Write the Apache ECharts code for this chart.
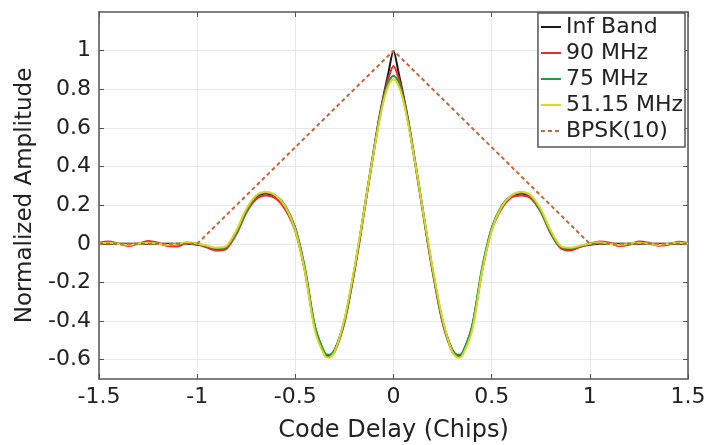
<!DOCTYPE html>
<html>
<head>
<meta charset="utf-8">
<script src="https://cdn.jsdelivr.net/npm/echarts@6/dist/echarts.min.js"></script>
<style>
    html, body { margin: 0; padding: 0; background: #fff; }
    #acf_chart { width: 705px; height: 445px; }
</style>
</head>
<body>
<div id="acf_chart"></div>
<script>
// code delay samples (chips)
const delays = [-1.5, -1.45, -1.4, -1.35, -1.3, -1.25, -1.2, -1.15, -1.1, -1.05,
    -1, -0.95, -0.9, -0.85, -0.8, -0.75, -0.7, -0.65, -0.6, -0.55, -0.5, -0.45, -0.4,
    -0.35, -0.33, -0.3, -0.25, -0.2, -0.175, -0.15, -0.125, -0.1, -0.075, -0.05, -0.025,
    0,
    0.025, 0.05, 0.075, 0.1, 0.125, 0.15, 0.175, 0.2, 0.25, 0.3, 0.33, 0.35, 0.4, 0.45,
    0.5, 0.55, 0.6, 0.65, 0.7, 0.75, 0.8, 0.85, 0.9, 0.95, 1,
    1.05, 1.1, 1.15, 1.2, 1.25, 1.3, 1.35, 1.4, 1.45, 1.5];

const infBand = [0, 0, 0, 0, 0, 0, 0, 0, 0, 0,
    -0.005, -0.015, -0.03, -0.02, 0.06, 0.17, 0.24, 0.26, 0.245, 0.19, 0.08, -0.14, -0.43,
    -0.57, -0.58, -0.55, -0.4, -0.14, 0.01, 0.17, 0.33, 0.49, 0.64, 0.77, 0.89,
    1,
    0.89, 0.77, 0.64, 0.49, 0.33, 0.17, 0.01, -0.14, -0.4, -0.55, -0.58, -0.57, -0.43, -0.14,
    0.08, 0.19, 0.245, 0.26, 0.24, 0.17, 0.06, -0.02, -0.03, -0.015, -0.005,
    0, 0, 0, 0, 0, 0, 0, 0, 0, 0];

const band90 = [0.005, 0.012, 0, -0.012, 0, 0.014, 0.005, -0.012, -0.014, 0.005,
    0, -0.02, -0.035, -0.025, 0.05, 0.16, 0.23, 0.25, 0.235, 0.175, 0.065, -0.15, -0.44,
    -0.575, -0.585, -0.56, -0.41, -0.15, 0, 0.16, 0.32, 0.48, 0.63, 0.76, 0.86,
    0.92,
    0.86, 0.76, 0.63, 0.48, 0.32, 0.16, 0, -0.15, -0.41, -0.56, -0.585, -0.575, -0.44, -0.15,
    0.07, 0.18, 0.24, 0.25, 0.235, 0.165, 0.055, -0.02, -0.035, -0.015, 0,
    0.012, 0.005, -0.012, -0.005, 0.012, 0.005, -0.01, -0.005, 0.01, 0.003];

const band75 = [0, 0.004, 0, -0.005, 0, 0.005, 0, -0.005, 0, 0.005,
    0, -0.012, -0.025, -0.015, 0.06, 0.17, 0.245, 0.265, 0.25, 0.195, 0.08, -0.13, -0.43,
    -0.565, -0.575, -0.555, -0.4, -0.14, 0.01, 0.17, 0.33, 0.48, 0.63, 0.75, 0.84,
    0.87,
    0.84, 0.75, 0.63, 0.48, 0.33, 0.17, 0.01, -0.14, -0.4, -0.555, -0.575, -0.565, -0.43, -0.13,
    0.08, 0.195, 0.25, 0.265, 0.245, 0.17, 0.06, -0.015, -0.025, -0.012, 0,
    0.005, 0, -0.005, 0, 0.005, 0, -0.005, 0, 0.004, 0];

const band51 = [0, 0.005, 0, -0.006, 0, 0.006, 0, -0.006, 0, 0.008,
    0, -0.01, -0.02, -0.01, 0.07, 0.18, 0.25, 0.27, 0.25, 0.19, 0.07, -0.15, -0.45,
    -0.58, -0.59, -0.56, -0.39, -0.13, 0.02, 0.17, 0.33, 0.48, 0.62, 0.74, 0.82,
    0.85,
    0.82, 0.74, 0.62, 0.48, 0.33, 0.17, 0.02, -0.13, -0.39, -0.56, -0.59, -0.58, -0.45, -0.15,
    0.07, 0.19, 0.25, 0.27, 0.25, 0.18, 0.07, -0.01, -0.02, -0.01, 0,
    0.008, 0, -0.006, 0, 0.006, 0, -0.006, 0, 0.005, 0];

const bpskX = [-1.5, -1, 0, 1, 1.5];
const bpskY = [0, 0, 1, 0, 0];

const seriesNames = ['Inf Band', '90 MHz', '75 MHz', '51.15 MHz', 'BPSK(10)'];
const xTicks = [-1.5, -1, -0.5, 0, 0.5, 1, 1.5];
const yTicks = [-0.6, -0.4, -0.2, 0, 0.2, 0.4, 0.6, 0.8, 1];

const font = 'DejaVu Sans';
const axisColor = '#555';

function pairs(xs, ys) {
    return xs.map((x, i) => [x, ys[i]]);
}

function curve(name, ys, color) {
    return {
        name: name,
        type: 'line',
        symbol: 'none',
        smooth: 0.3,
        data: pairs(delays, ys),
        lineStyle: { color: color, width: 2 },
        itemStyle: { color: color }
    };
}

let chart = echarts.init(document.getElementById('acf_chart'));
const option = {
    backgroundColor: '#fff',
    animation: false,
    grid: {
        left: 99,
        right: 17,
        top: 12,
        bottom: 66,
        outerBoundsMode: 'none'
    },
    legend: {
        data: seriesNames,
        orient: 'vertical',
        right: 20,
        top: 13,
        itemWidth: 20,
        itemHeight: 10,
        itemGap: 4,
        padding: [3, 2, 5, 2],
        backgroundColor: '#fff',
        borderColor: axisColor,
        borderWidth: 1.5,
        itemStyle: { opacity: 0 },
        textStyle: { fontFamily: font, fontSize: 22, color: '#222' }
    },
    xAxis: [
        {
            type: 'value',
            min: -1.5,
            max: 1.5,
            interval: 0.5,
            name: 'Code Delay (Chips)',
            nameLocation: 'middle',
            nameGap: 40,
            nameTextStyle: { fontFamily: font, fontSize: 24, color: '#222' },
            axisLine: { onZero: false, lineStyle: { color: axisColor, width: 1.5 } },
            axisTick: { inside: true, length: 5, lineStyle: { color: axisColor } },
            axisLabel: {
                fontFamily: font, fontSize: 22, color: '#222', margin: 7,
                formatter: v => xTicks.indexOf(v) >= 0 ? String(v) : ''
            },
            splitLine: { show: true, lineStyle: { color: '#e8e8e8' } }
        },
        {
            type: 'value',
            position: 'top',
            min: -1.5,
            max: 1.5,
            interval: 0.5,
            axisLine: { onZero: false, lineStyle: { color: axisColor, width: 1.5 } },
            axisTick: { inside: true, length: 5, lineStyle: { color: axisColor } },
            axisLabel: { show: false },
            splitLine: { show: false }
        }
    ],
    yAxis: [
        {
            type: 'value',
            min: -0.7,
            max: 1.2,
            name: 'Normalized Amplitude',
            nameLocation: 'middle',
            nameGap: 62,
            nameTextStyle: { fontFamily: font, fontSize: 23, color: '#222' },
            axisLine: { show: true, onZero: false, lineStyle: { color: axisColor, width: 1.5 } },
            axisTick: { show: true, inside: true, length: 5, lineStyle: { color: axisColor },
                customValues: yTicks },
            axisLabel: {
                fontFamily: font, fontSize: 22, color: '#222', margin: 8,
                customValues: yTicks,
                formatter: v => String(Math.round(v * 10) / 10)
            },
            splitLine: { show: true, lineStyle: { color: '#e8e8e8' } }
        },
        {
            type: 'value',
            position: 'right',
            min: -0.7,
            max: 1.2,
            axisLine: { show: true, onZero: false, lineStyle: { color: axisColor, width: 1.5 } },
            axisTick: { show: true, inside: true, length: 5, lineStyle: { color: axisColor },
                customValues: yTicks },
            axisLabel: { show: false },
            splitLine: { show: false }
        }
    ],
    series: [
        curve(seriesNames[0], infBand, '#1a1a1a'),
        curve(seriesNames[1], band90, '#ee2a2a'),
        curve(seriesNames[2], band75, '#1f9e3a'),
        curve(seriesNames[3], band51, '#d8d82a'),
        {
            name: seriesNames[4],
            type: 'line',
            symbol: 'none',
            data: pairs(bpskX, bpskY),
            lineStyle: { color: '#c8653c', width: 2, type: [4, 3] },
            itemStyle: { color: '#c8653c' }
        }
    ]
};
chart.setOption(option);
</script>
</body>
</html>
